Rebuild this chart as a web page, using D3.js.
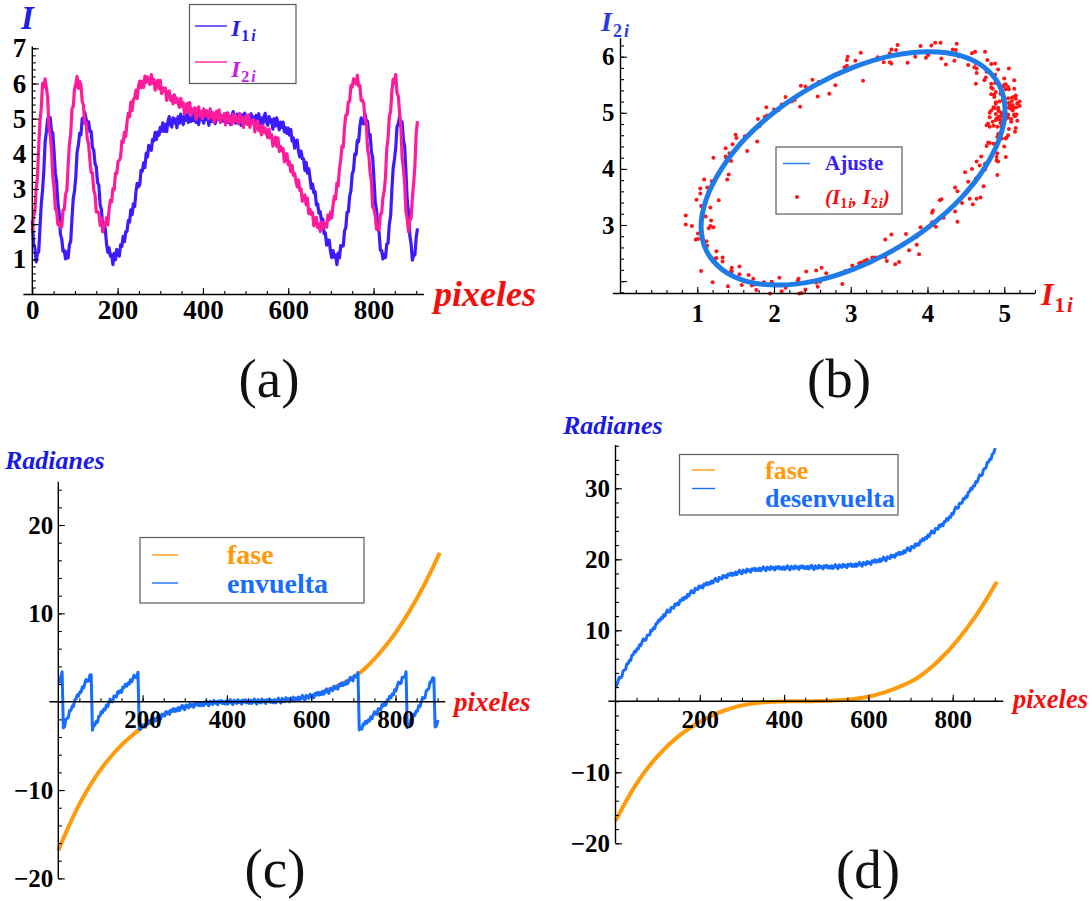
<!DOCTYPE html>
<html>
<head>
<meta charset="utf-8">
<title>Intensidades, ajuste y fase</title>
<script src="https://cdn.jsdelivr.net/npm/d3@7"></script>
<style>
  html, body { margin: 0; padding: 0; background: #ffffff; }
  svg { display: block; }
</style>
</head>
<body>
<svg id="fig" width="1092" height="901" viewBox="0 0 1092 901"></svg>
<script>
// ---------------------------------------------------------------------------
// Data: one sample every 3 pixels (pixel 0 .. 903)
// ---------------------------------------------------------------------------
const pixelStep = 3;

const intensityI1 = [
  2.10,1.45,1.33,0.93,1.17,1.21,1.91,2.57,2.96,3.51,
  4.33,4.63,5.00,4.81,5.03,4.64,4.59,4.06,3.45,3.21,
  2.60,2.32,1.71,1.58,1.23,1.25,1.01,1.21,1.04,1.42,
  1.51,2.15,2.72,2.95,3.35,4.05,4.24,4.58,4.54,5.00,
  4.89,5.17,5.00,4.77,4.91,4.63,4.64,4.18,4.11,3.72,
  3.63,3.18,3.11,2.55,2.42,1.95,1.97,1.87,1.44,1.20,
  1.33,1.09,1.13,0.85,1.17,0.99,1.28,1.19,1.09,1.41,
  1.37,1.65,1.50,1.78,1.79,2.10,2.06,2.41,2.27,2.58,
  2.50,2.92,3.16,3.06,3.13,3.53,3.51,3.74,3.61,4.01,
  3.91,4.24,4.18,4.10,4.41,4.37,4.61,4.41,4.62,4.53,
  4.75,4.64,4.88,4.64,4.83,4.63,4.92,5.06,4.83,4.76,
  5.02,4.88,4.99,4.74,5.06,4.87,5.13,4.98,4.83,5.07,
  4.95,5.13,4.89,5.05,4.92,5.10,4.94,5.15,4.89,5.05,
  4.83,5.09,5.20,4.96,4.87,5.13,4.98,5.07,4.81,5.12,
  4.92,5.17,5.02,4.86,5.10,4.97,5.15,4.90,5.06,4.93,
  5.11,4.95,5.16,4.89,5.05,4.83,5.09,5.20,4.96,4.87,
  5.13,4.98,5.07,4.81,5.11,4.91,5.16,5.01,4.85,5.09,
  4.96,5.14,4.89,5.05,4.92,5.09,4.93,5.14,4.86,5.02,
  4.79,5.05,5.15,4.91,4.81,5.06,4.90,4.97,4.70,5.00,
  4.79,5.02,4.86,4.68,4.90,4.75,4.90,4.62,4.75,4.58,
  4.73,4.53,4.69,4.36,4.45,4.16,4.36,4.39,4.07,3.91,
  4.08,3.86,3.86,3.53,3.76,3.45,3.58,3.32,3.02,3.14,
  2.89,2.93,2.55,2.57,2.31,2.36,2.07,2.15,1.73,1.75,
  1.40,1.55,1.55,1.23,1.05,1.25,1.06,1.12,0.85,1.18,
  1.04,1.39,1.37,1.38,1.81,1.90,2.34,2.35,2.80,2.95,
  3.43,3.53,4.00,3.98,4.38,4.35,4.78,5.02,4.88,4.85,
  5.13,4.94,4.92,4.49,4.55,4.06,3.89,3.28,2.62,2.41,
  1.87,1.77,1.26,1.25,1.01,1.15,1.05,1.44,1.46,2.00,
  2.23,2.99,3.59,3.84,4.17,4.77,4.86,5.06,4.77,4.91,
  4.39,4.21,3.47,2.68,2.33,1.67,1.45,0.98,1.11,1.13,
  1.62,1.88
];

const intensityI2 = [
  1.82,2.24,2.35,2.98,3.31,4.20,4.95,5.29,6.00,5.90,
  6.13,5.88,5.61,4.75,4.56,4.13,3.37,3.05,2.43,2.38,
  1.99,2.04,1.92,1.93,2.40,2.41,2.85,2.96,3.65,4.28,
  4.55,5.28,5.34,5.84,5.99,6.20,5.86,6.06,5.96,5.50,
  5.37,4.86,4.89,4.41,4.28,3.83,3.47,3.46,2.97,2.84,
  2.34,2.36,2.32,1.97,2.17,1.78,1.99,1.97,2.18,1.98,
  2.42,2.68,2.63,3.01,2.98,3.45,3.44,3.78,3.81,3.90,
  4.37,4.32,4.61,4.49,4.89,5.15,5.05,5.47,5.23,5.55,
  5.59,5.81,5.57,5.93,6.07,5.88,6.06,5.89,6.21,6.03,
  6.19,6.06,5.97,6.25,6.01,6.12,5.81,6.01,6.09,5.85,
  6.09,5.71,5.88,5.79,5.87,5.52,5.77,5.79,5.52,5.63,
  5.42,5.68,5.47,5.58,5.42,5.32,5.58,5.35,5.45,5.13,
  5.34,5.43,5.19,5.46,5.09,5.27,5.20,5.31,4.98,5.26,
  5.33,5.07,5.20,5.00,5.28,5.09,5.23,5.09,5.00,5.28,
  5.05,5.17,4.89,5.10,5.21,4.98,5.25,4.90,5.09,5.03,
  5.14,4.82,5.10,5.16,4.91,5.04,4.84,5.12,4.94,5.08,
  4.95,4.86,5.15,4.92,5.04,4.75,4.97,5.07,4.84,5.11,
  4.75,4.94,4.87,4.97,4.62,4.89,4.93,4.66,4.77,4.54,
  4.81,4.60,4.73,4.57,4.46,4.71,4.45,4.54,4.22,4.40,
  4.47,4.21,4.45,4.06,4.21,4.09,4.15,3.77,3.99,4.00,
  3.69,3.77,3.49,3.67,3.39,3.44,3.24,3.06,3.26,2.96,
  3.00,2.65,2.79,2.83,2.55,2.74,2.30,2.42,2.28,2.33,
  1.95,2.18,2.19,1.90,2.01,1.79,2.06,1.88,2.04,1.94,
  1.91,2.26,2.12,2.34,2.18,2.53,2.79,2.71,3.17,3.08,
  3.56,3.81,4.22,4.19,4.76,5.10,5.11,5.48,5.49,5.94,
  5.90,6.13,6.05,5.98,6.23,5.93,5.94,5.51,5.53,5.43,
  4.97,4.88,4.13,3.94,3.47,3.22,2.48,2.42,2.24,1.85,
  1.98,1.84,2.28,2.31,2.75,2.94,3.34,4.14,4.44,5.06,
  5.20,5.78,6.12,6.00,6.25,5.73,5.64,5.18,4.78,3.89,
  3.60,3.13,2.36,2.14,1.78,2.11,2.17,2.74,3.15,3.67,
  4.58,4.93
];

// unwrapped phase (desenvuelta), radians
const phaseUnwrapped = [
  2.27,2.23,2.82,3.38,3.30,3.44,4.26,4.40,4.52,5.28,
  5.29,5.78,5.75,6.51,6.56,7.04,6.92,7.39,7.36,7.96,
  7.83,8.35,8.79,8.59,8.61,9.30,9.32,9.34,10.01,9.95,
  10.35,10.23,10.92,10.96,11.45,11.32,11.75,11.65,12.19,12.00,
  12.45,12.86,12.60,12.57,13.21,13.18,13.12,13.70,13.53,13.84,
  13.62,14.21,14.15,14.54,14.32,14.69,14.55,15.04,14.81,15.21,
  15.58,15.32,15.27,15.91,15.82,15.71,16.23,16.01,16.25,15.97,
  16.50,16.38,16.70,16.41,16.73,16.53,16.95,16.66,17.00,17.31,
  16.98,16.88,17.45,17.34,17.22,17.72,17.48,17.71,17.42,17.91,
  17.77,18.06,17.74,18.02,17.79,18.20,17.87,18.18,18.45,18.08,
  17.94,18.48,18.33,18.16,18.62,18.34,18.53,18.21,18.67,18.49,
  18.74,18.39,18.64,18.39,18.76,18.40,18.69,18.93,18.55,18.39,
  18.90,18.73,18.54,18.98,18.68,18.85,18.50,18.94,18.75,18.99,
  18.63,18.86,18.59,18.94,18.58,18.85,19.09,18.69,18.52,19.02,
  18.85,18.65,19.08,18.78,18.94,18.58,19.03,18.83,19.07,18.71,
  18.94,18.66,19.02,18.65,18.92,19.16,18.76,18.58,19.09,18.91,
  18.71,19.14,18.84,19.00,18.64,19.09,18.89,19.14,18.77,19.01,
  18.73,19.09,18.72,19.00,19.25,18.86,18.69,19.21,19.04,18.85,
  19.30,19.00,19.17,18.83,19.28,19.10,19.36,19.01,19.26,19.00,
  19.37,19.02,19.31,19.56,19.18,19.03,19.56,19.41,19.24,19.70,
  19.42,19.61,19.29,19.78,19.63,19.92,19.59,19.87,19.64,20.03,
  19.71,20.02,20.30,19.94,19.80,20.36,20.24,20.10,20.60,20.35,
  20.57,20.28,20.79,20.66,20.97,20.67,20.97,20.77,21.21,20.93,
  21.29,21.61,21.30,21.21,21.81,21.72,21.62,22.14,21.93,22.23,
  22.01,22.60,22.54,22.92,22.69,23.06,22.93,23.42,23.20,23.61,
  23.99,23.73,23.69,24.33,24.30,24.24,24.81,24.64,24.95,24.73,
  25.31,25.30,25.74,25.56,25.99,25.90,26.49,26.36,26.88,27.35,
  27.18,27.19,27.89,27.90,27.90,28.52,28.46,28.87,28.76,29.45,
  29.50,30.00,29.88,30.37,30.35,30.96,30.85,31.38,31.89,31.77,
  31.87,32.65,32.79,32.91,33.65,33.66,34.14,34.09,34.84,34.94,
  35.48,35.40
];

// wrapped phase (envuelta), radians
const phaseWrapped = [
  2.27,2.23,2.82,3.38,-2.98,-2.84,-2.02,-1.88,-1.76,-1.00,
  -0.99,-0.50,-0.53,0.23,0.28,0.76,0.64,1.11,1.08,1.68,
  1.55,2.07,2.51,2.31,2.33,3.02,3.04,-3.23,-2.56,-2.62,
  -2.22,-2.34,-1.65,-1.61,-1.12,-1.25,-0.82,-0.92,-0.38,-0.57,
  -0.12,0.29,0.03,0.00,0.64,0.61,0.55,1.13,0.96,1.27,
  1.05,1.64,1.58,1.97,1.75,2.12,1.98,2.47,2.24,2.64,
  3.01,2.75,2.70,3.34,-3.03,-3.14,-2.62,-2.84,-2.60,-2.88,
  -2.35,-2.47,-2.15,-2.44,-2.12,-2.32,-1.90,-2.19,-1.85,-1.54,
  -1.87,-1.97,-1.40,-1.51,-1.63,-1.13,-1.37,-1.14,-1.43,-0.94,
  -1.08,-0.79,-1.11,-0.83,-1.06,-0.65,-0.98,-0.67,-0.40,-0.77,
  -0.91,-0.37,-0.52,-0.69,-0.23,-0.51,-0.32,-0.64,-0.18,-0.36,
  -0.11,-0.46,-0.21,-0.46,-0.09,-0.45,-0.16,0.08,-0.30,-0.46,
  0.05,-0.12,-0.31,0.13,-0.17,0.00,-0.35,0.09,-0.10,0.14,
  -0.22,0.01,-0.26,0.09,-0.27,0.00,0.24,-0.16,-0.33,0.17,
  0.00,-0.20,0.23,-0.07,0.09,-0.27,0.18,-0.02,0.22,-0.14,
  0.09,-0.19,0.17,-0.20,0.07,0.31,-0.09,-0.27,0.24,0.06,
  -0.14,0.29,-0.01,0.15,-0.21,0.24,0.04,0.29,-0.08,0.16,
  -0.12,0.24,-0.13,0.15,0.40,0.01,-0.16,0.36,0.19,0.00,
  0.45,0.15,0.32,-0.02,0.43,0.25,0.51,0.16,0.41,0.15,
  0.52,0.17,0.46,0.71,0.33,0.18,0.71,0.56,0.39,0.85,
  0.57,0.76,0.44,0.93,0.78,1.07,0.74,1.02,0.79,1.18,
  0.86,1.17,1.45,1.09,0.95,1.51,1.39,1.25,1.75,1.50,
  1.72,1.43,1.94,1.81,2.12,1.82,2.12,1.92,2.36,2.08,
  2.44,2.76,2.45,2.36,2.96,2.87,2.77,3.29,-3.20,-2.90,
  -3.12,-2.53,-2.59,-2.21,-2.44,-2.07,-2.20,-1.71,-1.93,-1.52,
  -1.14,-1.40,-1.44,-0.80,-0.83,-0.89,-0.32,-0.49,-0.18,-0.40,
  0.18,0.17,0.61,0.43,0.86,0.77,1.36,1.23,1.75,2.22,
  2.05,2.06,2.76,2.77,2.77,3.39,-2.96,-2.55,-2.66,-1.97,
  -1.92,-1.42,-1.54,-1.05,-1.07,-0.46,-0.57,-0.04,0.47,0.35,
  0.45,1.23,1.37,1.49,2.23,2.24,2.72,2.67,-2.86,-2.76,
  -2.22,-2.30
];

// reference phase (fase), sampled every 10 pixels
const phaseTruePixels = [
  0,10,20,30,40,50,60,70,80,90,100,110,120,130,140,150,160,170,180,190,
  200,210,220,230,240,250,260,270,280,290,300,310,320,330,340,350,360,370,380,390,
  400,410,420,430,440,450,460,470,480,490,500,510,520,530,540,550,560,570,580,590,
  600,610,620,630,640,650,660,670,680,690,700,710,720,730,740,750,760,770,780,790,
  800,810,820,830,840,850,860,870,880,890,900,905
];
const phaseTrue = [
  -16.85,-15.72,-14.62,-13.56,-12.55,-11.60,-10.72,-9.90,-9.12,-8.40,
  -7.72,-7.08,-6.48,-5.92,-5.40,-4.91,-4.45,-4.02,-3.62,-3.24,
  -2.89,-2.56,-2.26,-1.98,-1.72,-1.48,-1.26,-1.06,-0.88,-0.72,
  -0.58,-0.46,-0.36,-0.28,-0.21,-0.15,-0.11,-0.07,-0.05,-0.03,
  -0.02,-0.01,-0.01,0.00,0.00,0.00,0.01,0.02,0.03,0.04,
  0.06,0.08,0.11,0.15,0.19,0.24,0.30,0.37,0.45,0.54,
  0.64,0.78,0.94,1.11,1.30,1.50,1.72,1.96,2.21,2.47,
  2.76,3.08,3.44,3.87,4.34,4.84,5.37,5.93,6.52,7.14,
  7.80,8.52,9.24,10.00,10.80,11.63,12.50,13.40,14.35,15.33,
  16.35,16.85
];

// fitted ellipse (Ajuste) in the (I1, I2) plane
const fitEllipseI1 = [5.01,4.94,4.74,4.43,4.02,3.54,3.03,2.52,2.04,1.63,1.32,1.12,
                      1.05,1.12,1.32,1.63,2.04,2.52,3.03,3.54,4.02,4.43,4.74,4.94];
const fitEllipseI2 = [5.05,4.55,4.01,3.47,2.97,2.54,2.21,2.00,1.93,2.00,2.21,2.54,
                      2.97,3.47,4.01,4.55,5.05,5.48,5.81,6.02,6.09,6.02,5.81,5.48];

// tick values and labels
const ticksPixelsA = [0, 200, 400, 600, 800];
const ticksPixelsCD = [200, 400, 600, 800];
const ticksIntensity = [1, 2, 3, 4, 5, 6, 7];
const ticksScatterX = [1, 2, 3, 4, 5];
const ticksScatterY = [2, 3, 4, 5, 6];
const labelsScatterY = ["", "3", "4", "5", "6"];
const ticksRadiansC = [-20, -10, 10, 20];
const ticksRadiansD = [-20, -10, 10, 20, 30];

// ---------------------------------------------------------------------------
// Drawing
// ---------------------------------------------------------------------------
const SERIF = '"Liberation Serif","Times New Roman",Times,serif';
const svg = d3.select("#fig");
const pixels = intensityI1.map((_, i) => i * pixelStep);

const colI1 = "#3a1cff", colI2 = "#ff1c9c";
const colFit = "#1f7be8", colDot = "#ff1414";
const colFase = "#ff9a0a", colWrap = "#176dff";
const colRed = "#f40f0f", colBlue = "#2020e4";
const fmtInt = d3.format("d");

function drawAxes(g, x, y, o) {
  const xAxisY = y(o.xCross), yAxisX = x(o.yCross);
  const tickSet = (axisFn, scale, vals, size, pad, fmt, tr) => {
    const a = axisFn(scale).tickValues(vals).tickSizeInner(-size).tickSizeOuter(0)
      .tickPadding(pad).tickFormat(fmt);
    const s = g.append("g").attr("transform", tr).call(a);
    s.select(".domain").remove();
    s.selectAll(".tick line").attr("stroke", "#000").attr("stroke-width", 1.1);
    s.selectAll("text").attr("fill", "#000")
      .style("font-family", SERIF).style("font-weight", "bold").style("font-size", o.fs + "px");
  };
  tickSet(d3.axisBottom, x, o.xMinor, 3.5, 0, () => "", `translate(0,${xAxisY})`);
  tickSet(d3.axisBottom, x, o.xMajor, 6.5, o.xPad, o.xFmt, `translate(0,${xAxisY})`);
  tickSet(d3.axisLeft, y, o.yMinor, 3.5, 0, () => "", `translate(${yAxisX},0)`);
  tickSet(d3.axisLeft, y, o.yMajor, 6.5, o.yPad, o.yFmt, `translate(${yAxisX},0)`);
  g.append("line")
    .attr("x1", x(o.xSpan[0])).attr("x2", x(o.xSpan[1]))
    .attr("y1", xAxisY).attr("y2", xAxisY)
    .attr("stroke", "#000").attr("stroke-width", 1.4);
  g.append("line")
    .attr("x1", yAxisX).attr("x2", yAxisX)
    .attr("y1", y(o.ySpan[0])).attr("y2", y(o.ySpan[1]))
    .attr("stroke", "#000").attr("stroke-width", 1.4);
}

function text(g, x, y, str, size, fill, o = {}) {
  return g.append("text").attr("x", x).attr("y", y).attr("fill", fill)
    .attr("text-anchor", o.anchor || "start")
    .style("font-family", SERIF)
    .style("font-weight", o.weight || "bold")
    .style("font-style", o.italic ? "italic" : "normal")
    .style("font-size", size + "px")
    .text(str);
}

// symbol I with a two-part subscript such as "1 i"
function indexedI(g, x, y, digit, size, subSize, fill) {
  const t = g.append("text").attr("x", x).attr("y", y).attr("fill", fill)
    .style("font-family", SERIF).style("font-weight", "bold").style("font-size", size + "px");
  t.append("tspan").style("font-style", "italic").text("I");
  t.append("tspan").attr("dx", 1).attr("dy", subSize * 0.32).style("font-size", subSize + "px").text(digit);
  t.append("tspan").attr("dx", 2).style("font-size", subSize + "px").style("font-style", "italic").text("i");
  return t;
}

function legendBox(g, x0, y0, x1, y1) {
  g.append("rect").attr("x", x0).attr("y", y0).attr("width", x1 - x0).attr("height", y1 - y0)
    .attr("fill", "#fff").attr("stroke", "#5a5a5a").attr("stroke-width", 1.2);
}
function legendLine(g, x0, x1, y, color) {
  g.append("line").attr("x1", x0).attr("x2", x1).attr("y1", y).attr("y2", y)
    .attr("stroke", color).attr("stroke-width", 1.4);
}

// ---------------- (a) intensities vs pixel ----------------
const gA = svg.append("g");
const xA = d3.scaleLinear().domain([0, 900]).range([32.3, 416.2]);
const yA = d3.scaleLinear().domain([0, 7]).range([294.5, 48.3]);
const lineA = d3.line().x((d, i) => xA(pixels[i])).y(d => yA(d));

gA.append("path").attr("d", lineA(intensityI1)).attr("fill", "none")
  .attr("stroke", colI1).attr("stroke-width", 3.2).attr("stroke-linejoin", "round");
gA.append("path").attr("d", lineA(intensityI2)).attr("fill", "none")
  .attr("stroke", colI2).attr("stroke-width", 3.2).attr("stroke-linejoin", "round");

drawAxes(gA, xA, yA, {
  xCross: 0, yCross: 0, xSpan: [-21, 918], ySpan: [0, 7.05],
  xMajor: ticksPixelsA, xMinor: d3.range(50, 901, 50), xFmt: fmtInt, xPad: 5,
  yMajor: ticksIntensity, yMinor: d3.range(0.2, 7.01, 0.2), yFmt: fmtInt, yPad: 6,
  fs: 27
});
text(gA, 21, 29, "I", 33, colBlue, { italic: true });
text(gA, 434, 306, "pixeles", 36, colRed, { italic: true });

legendBox(gA, 189.5, 4.5, 296, 83.5);
legendLine(gA, 195, 227, 26, colI1);
indexedI(gA, 231, 36, "1", 24, 16, "#2b1de8");
legendLine(gA, 195, 227, 62, colI2);
indexedI(gA, 231, 76.5, "2", 24, 16, "#c41ee8");

text(gA, 269, 397, "(a)", 55, "#111", { anchor: "middle", weight: "normal" });

// ---------------- (b) I2 vs I1 with fitted ellipse ----------------
const gB = svg.append("g");
const xB = d3.scaleLinear().domain([0, 5]).range([620.5, 1004.25]);
const yB = d3.scaleLinear().domain([2, 6]).range([281.1, 56.7]);

gB.selectAll("circle.pt").data(intensityI1).join("circle").attr("class", "pt")
  .attr("cx", d => xB(d)).attr("cy", (d, i) => yB(intensityI2[i]))
  .attr("r", 2.0).attr("fill", colDot);

const ellipsePts = fitEllipseI1.map((v, i) => [v, fitEllipseI2[i]]);
gB.append("path")
  .attr("d", d3.line().x(d => xB(d[0])).y(d => yB(d[1])).curve(d3.curveCatmullRomClosed)(ellipsePts))
  .attr("fill", "none").attr("stroke", colFit).attr("stroke-width", 5);

drawAxes(gB, xB, yB, {
  xCross: 1.78, yCross: 0, xSpan: [-0.1, 5.4], ySpan: [1.78, 6.33],
  xMajor: ticksScatterX, xMinor: d3.range(0.2, 5.41, 0.2), xFmt: fmtInt, xPad: 11,
  yMajor: ticksScatterY, yMinor: d3.range(1.8, 6.31, 0.2), yFmt: (d, i) => labelsScatterY[i], yPad: 6,
  fs: 25
});
indexedI(gB, 601, 31, "2", 28, 18, "#2a3ae6");
indexedI(gB, 1041, 305, "1", 32, 21, colRed);

legendBox(gB, 776, 147, 902, 214);
legendLine(gB, 783, 810, 163.5, colFit);
text(gB, 825, 170, "Ajuste", 21, "#3b1cff");
gB.append("circle").attr("cx", 797).attr("cy", 197).attr("r", 2).attr("fill", colDot);
{
  const t = gB.append("text").attr("x", 825).attr("y", 203.5).attr("fill", colRed)
    .style("font-family", SERIF).style("font-weight", "bold").style("font-style", "italic")
    .style("font-size", "21px");
  t.append("tspan").text("(I");
  t.append("tspan").attr("dy", 4).style("font-size", "14px").style("font-style", "normal").text("1");
  t.append("tspan").attr("dx", 1).style("font-size", "14px").text("i");
  t.append("tspan").attr("dy", -4).text(", I");
  t.append("tspan").attr("dy", 4).style("font-size", "14px").style("font-style", "normal").text("2");
  t.append("tspan").attr("dx", 1).style("font-size", "14px").text("i");
  t.append("tspan").attr("dy", -4).text(")");
}
text(gB, 839, 397, "(b)", 55, "#111", { anchor: "middle", weight: "normal" });

// ---------------- (c) reference and wrapped phase ----------------
const gC = svg.append("g");
const xC = d3.scaleLinear().domain([0, 900]).range([58.3, 437.65]);
const yC = d3.scaleLinear().domain([-20, 20]).range([878.4, 525.0]);

gC.append("path")
  .attr("d", d3.line().x((d, i) => xC(phaseTruePixels[i])).y(d => yC(d)).curve(d3.curveMonotoneX)(phaseTrue))
  .attr("fill", "none").attr("stroke", colFase).attr("stroke-width", 4);
gC.append("path")
  .attr("d", d3.line().x((d, i) => xC(pixels[i])).y(d => yC(d))(phaseWrapped))
  .attr("fill", "none").attr("stroke", colWrap).attr("stroke-width", 3).attr("stroke-linejoin", "round");

drawAxes(gC, xC, yC, {
  xCross: 0, yCross: 0, xSpan: [-21, 918], ySpan: [-20, 24.9],
  xMajor: ticksPixelsCD, xMinor: d3.range(50, 901, 50), xFmt: fmtInt, xPad: 8.5,
  yMajor: ticksRadiansC, yMinor: d3.range(-20, 24.1, 2), yFmt: fmtInt, yPad: 5,
  fs: 25
});
text(gC, 5, 469, "Radianes", 26, "#1a1ae6", { italic: true });
text(gC, 454, 711, "pixeles", 27, colRed, { italic: true });

legendBox(gC, 140, 537.5, 364, 603);
legendLine(gC, 152, 178, 555, colFase);
text(gC, 227, 563.5, "fase", 28, colFase);
legendLine(gC, 152, 178, 583, colWrap);
text(gC, 227, 592.5, "envuelta", 28, colWrap);

text(gC, 275, 887, "(c)", 55, "#111", { anchor: "middle", weight: "normal" });

// ---------------- (d) reference and unwrapped phase ----------------
const gD = svg.append("g");
const xD = d3.scaleLinear().domain([0, 900]).range([615.5, 994.85]);
const yD = d3.scaleLinear().domain([-20, 30]).range([843.3, 488.3]);

gD.append("path")
  .attr("d", d3.line().x((d, i) => xD(phaseTruePixels[i])).y(d => yD(d)).curve(d3.curveMonotoneX)(phaseTrue))
  .attr("fill", "none").attr("stroke", colFase).attr("stroke-width", 4);
gD.append("path")
  .attr("d", d3.line().x((d, i) => xD(pixels[i])).y(d => yD(d))(phaseUnwrapped))
  .attr("fill", "none").attr("stroke", colWrap).attr("stroke-width", 3).attr("stroke-linejoin", "round");

drawAxes(gD, xD, yD, {
  xCross: 0, yCross: 0, xSpan: [-17, 920], ySpan: [-20, 36.1],
  xMajor: ticksPixelsCD, xMinor: d3.range(50, 901, 50), xFmt: fmtInt, xPad: 8.5,
  yMajor: ticksRadiansD, yMinor: d3.range(-20, 36.1, 2), yFmt: fmtInt, yPad: 5.5,
  fs: 25
});
text(gD, 563, 434, "Radianes", 26, "#1a1ae6", { italic: true });
text(gD, 1013, 708, "pixeles", 26.5, colRed, { italic: true });

legendBox(gD, 679.5, 454.5, 898, 515);
legendLine(gD, 692, 715, 470, colFase);
text(gD, 765, 478.5, "fase", 26, colFase);
legendLine(gD, 692, 715, 488.5, colWrap);
text(gD, 765, 506.5, "desenvuelta", 26, colWrap);

text(gD, 868, 888, "(d)", 55, "#111", { anchor: "middle", weight: "normal" });
</script>
</body>
</html>
